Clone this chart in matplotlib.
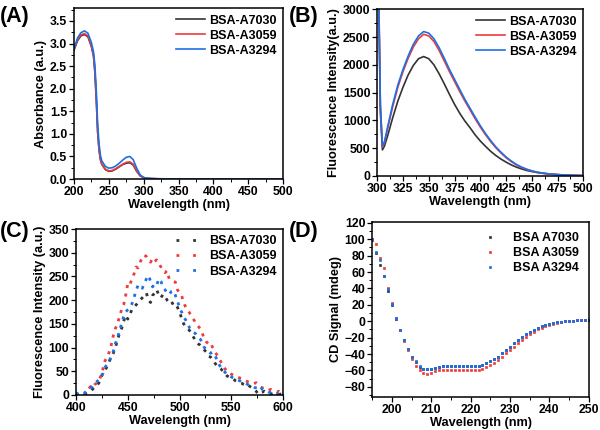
import numpy as np
import matplotlib
matplotlib.use("Agg")
import matplotlib.pyplot as plt
from matplotlib.ticker import MultipleLocator

plt.rcParams['font.family'] = ['Liberation Sans', 'DejaVu Sans']
plt.rcParams['font.weight'] = 'bold'
plt.rcParams['axes.labelweight'] = 'bold'

# ---------------- data ----------------
labels_line = ["BSA-A7030", "BSA-A3059", "BSA-A3294"]
labels_cd = ["BSA A7030", "BSA A3059", "BSA A3294"]
colors = ["#333333", "#ef3b3b", "#1c70e6"]

# (A) absorbance
abs_x = [200, 205, 210, 215, 220, 225, 228, 230, 232, 234, 236, 238, 240, 245, 250, 255,
         260, 265, 270, 275, 280, 285, 290, 295, 300, 305, 310, 320, 350, 400, 450, 500]
abs_a7030 = [2.85, 3.06, 3.17, 3.20, 3.15, 2.93, 2.72, 2.35, 1.75, 1.02, 0.63, 0.42, 0.32, 0.21, 0.17, 0.18,
             0.22, 0.27, 0.32, 0.35, 0.36, 0.31, 0.17, 0.07, 0.03, 0.015, 0.01, 0.005, 0.0, 0.0, 0.0, 0.0]
abs_a3059 = [2.87, 3.08, 3.19, 3.22, 3.17, 2.95, 2.75, 2.40, 1.80, 1.05, 0.65, 0.44, 0.33, 0.22, 0.18, 0.19,
             0.23, 0.28, 0.33, 0.37, 0.38, 0.33, 0.18, 0.07, 0.03, 0.015, 0.01, 0.005, 0.0, 0.0, 0.0, 0.0]
abs_a3294 = [2.88, 3.12, 3.24, 3.28, 3.23, 3.02, 2.82, 2.52, 1.97, 1.20, 0.78, 0.52, 0.40, 0.28, 0.24, 0.25,
             0.29, 0.35, 0.42, 0.48, 0.50, 0.43, 0.24, 0.09, 0.035, 0.015, 0.01, 0.005, 0.0, 0.0, 0.0, 0.0]

# (B) intrinsic fluorescence
fl_x = [300, 301, 303, 305, 307, 310, 315, 320, 325, 330, 335, 340, 345, 350, 355, 360, 365, 370,
        375, 380, 385, 390, 395, 400, 405, 410, 415, 420, 425, 430, 435, 440, 445, 450, 455, 460,
        465, 470, 475, 480, 485, 490, 495, 500]
fl_a7030 = [6000, 3600, 1150, 470, 540, 720, 1050, 1350, 1600, 1820, 1990, 2110, 2150, 2110, 2000, 1840, 1660, 1470,
            1290, 1130, 990, 870, 740, 630, 535, 445, 370, 305, 250, 200, 160, 128, 100, 80, 63, 50,
            39, 31, 24, 19, 15, 11, 9, 7]
fl_a3059 = [6000, 3800, 1250, 520, 600, 850, 1250, 1600, 1880, 2120, 2320, 2470, 2550, 2520, 2420, 2260, 2070, 1880,
            1700, 1520, 1350, 1190, 1030, 880, 745, 620, 510, 415, 330, 260, 200, 155, 118, 90, 68, 52,
            40, 32, 25, 19, 15, 12, 9, 7]
fl_a3294 = [6000, 3800, 1280, 540, 620, 880, 1290, 1640, 1920, 2160, 2370, 2520, 2600, 2570, 2470, 2310, 2120, 1920,
            1740, 1560, 1380, 1220, 1060, 905, 765, 640, 525, 430, 342, 270, 208, 160, 122, 93, 70, 54,
            42, 33, 26, 20, 16, 12, 9, 7]

# (C) extrinsic fluorescence (2 nm steps, 400-600 nm)
ex_x = list(range(400, 601, 2))
ex_a7030 = [2, 0, 1, 0, 2, 3, 5, 8, 12, 18, 20, 25, 35, 48, 52, 60, 70, 80, 88, 100,
            115, 130, 140, 155, 168, 160, 170, 180, 185, 190, 195, 200, 205, 210, 215, 200, 195, 210, 215, 222,
            210, 205, 212, 208, 200, 195, 198, 190, 192, 185, 175, 162, 150, 145, 140, 135, 128, 120, 112, 108,
            105, 100, 95, 90, 82, 80, 75, 68, 62, 58, 55, 50, 45, 40, 38, 36, 34, 30, 28, 26,
            25, 22, 20, 22, 18, 15, 12, 8, 2, 5, 6, 8, 5, 4, 3, 2, 3, 2, 1, 2, 1]
ex_a3059 = [3, 0, 2, 4, 1, 5, 12, 18, 15, 22, 25, 30, 40, 55, 72, 80, 90, 105, 125, 140,
            150, 165, 180, 190, 210, 235, 232, 245, 255, 270, 268, 280, 290, 295, 292, 285, 280, 288, 282, 285,
            278, 270, 262, 258, 262, 245, 242, 240, 238, 222, 215, 210, 195, 185, 180, 172, 165, 158, 150, 145,
            140, 130, 118, 112, 108, 110, 100, 92, 85, 78, 70, 62, 55, 50, 46, 44, 42, 40, 38, 36,
            35, 32, 30, 28, 26, 25, 24, 26, 22, 18, 15, 14, 12, 10, 12, 10, 8, 6, 8, 5, 4]
ex_a3294 = [5, 2, 0, 3, 4, 8, 10, 14, 18, 25, 28, 32, 38, 45, 58, 65, 72, 80, 92, 108,
            120, 135, 150, 165, 175, 180, 185, 192, 205, 220, 232, 230, 225, 235, 245, 252, 240, 228, 235, 232,
            245, 240, 228, 222, 215, 212, 218, 220, 210, 198, 185, 175, 165, 158, 150, 140, 135, 132, 128, 122,
            118, 110, 100, 95, 92, 88, 90, 85, 75, 65, 58, 52, 48, 42, 40, 38, 36, 34, 32, 30,
            28, 27, 25, 22, 20, 18, 16, 15, 14, 18, 12, 10, 8, 6, 5, 4, 5, 3, 2, 4, 3]

# (D) circular dichroism (1 nm steps, 195-250 nm)
cd_x = list(range(195, 251))
cd_a7030 = [99, 83, 68, 55, 37, 20, 3, -11, -23, -34, -43, -50, -56, -58, -58, -58, -57, -56, -55, -54,
            -54, -54, -54, -54, -54, -54, -54, -54, -53, -51, -48, -46, -43, -39, -35, -31, -27, -23, -19, -16,
            -13, -11, -8, -6, -5, -3.5, -2.5, -1.5, -0.5, 0, 0.5, 0.8, 1, 1, 1.2, 1.2]
cd_a3059 = [100, 94, 77, 65, 41, 22, 4, -11, -24, -35, -46, -54, -60, -63, -64, -63, -61, -60, -60, -59,
            -59, -59, -60, -60, -60, -60, -60, -59, -58, -56, -53, -51, -47, -43, -39, -35, -31, -27, -23, -19,
            -16, -13, -10, -8, -6, -4, -3, -2, -1, 0, 0, 0.5, 1, 1, 1, 1.2]
cd_a3294 = [100, 85, 75, 55, 39, 21, 4, -11, -23, -34, -43, -49, -55, -58, -58, -58, -57, -56, -55, -54,
            -54, -54, -54, -54, -54, -54, -55, -55, -53, -51, -48, -46, -43, -39, -35, -31, -27, -23, -19, -16,
            -13, -11, -8, -6, -5, -3.5, -2.5, -1.5, -0.5, 0, 0.5, 0.8, 1, 1, 1.2, 1.2]

# ---------------- figure ----------------
fig = plt.figure(figsize=(6.0, 4.3), dpi=100)

TICK_FS = 8.8
LAB_FS = 9.2
LEG_FS = 9.0
PANEL_FS = 15.5


def style(ax, xmaj, xmin, ymaj, ymin):
    ax.xaxis.set_major_locator(MultipleLocator(xmaj))
    ax.xaxis.set_minor_locator(MultipleLocator(xmin))
    ax.yaxis.set_major_locator(MultipleLocator(ymaj))
    ax.yaxis.set_minor_locator(MultipleLocator(ymin))
    ax.tick_params(which='major', direction='out', length=3.5, width=0.9, labelsize=TICK_FS, pad=1.5)
    ax.tick_params(which='minor', direction='out', length=2, width=0.7)
    for lab in ax.get_xticklabels() + ax.get_yticklabels():
        lab.set_fontweight('bold')
    for s in ax.spines.values():
        s.set_linewidth(1.1)


def legend(ax, **kw):
    leg = ax.legend(loc='upper right', frameon=False, fontsize=LEG_FS, handlelength=2.3,
                    handletextpad=0.35, labelspacing=0.25, borderaxespad=0.1, **kw)
    for t in leg.get_texts():
        t.set_fontweight('bold')
    return leg


# (A)
axA = fig.add_axes([0.1233, 0.5837, 0.3484, 0.397])
for y, c, l in zip([abs_a7030, abs_a3059, abs_a3294], colors, labels_line):
    axA.plot(abs_x, y, color=c, lw=1.2, label=l)
axA.set_xlim(200, 500)
axA.set_ylim(0, 3.78)
style(axA, 50, 25, 0.5, 0.25)
axA.set_xlabel("Wavelength (nm)", fontsize=LAB_FS, labelpad=1)
axA.set_ylabel("Absorbance (a.u.)", fontsize=LAB_FS, labelpad=2)
legend(axA)

# (B)
axB = fig.add_axes([0.6288, 0.5907, 0.3434, 0.3877])
for y, c, l in zip([fl_a7030, fl_a3059, fl_a3294], colors, labels_line):
    axB.plot(fl_x, y, color=c, lw=1.2, label=l)
axB.set_xlim(300, 500)
axB.set_ylim(0, 3000)
style(axB, 25, 12.5, 500, 250)
axB.set_xlabel("Wavelength (nm)", fontsize=LAB_FS, labelpad=1)
axB.set_ylabel("Fluorescence Intensity(a.u.)", fontsize=LAB_FS, labelpad=2)
legend(axB)

# (C)
axC = fig.add_axes([0.1267, 0.0814, 0.345, 0.386])
for y, c, l in zip([ex_a7030, ex_a3059, ex_a3294], colors, labels_line):
    axC.plot(ex_x, y, color=c, lw=2.0, linestyle=(0, (1.1, 2.0)), label=l)
axC.set_xlim(400, 600)
axC.set_ylim(0, 350)
style(axC, 50, 25, 50, 25)
axC.set_xlabel("Wavelength (nm)", fontsize=LAB_FS, labelpad=1)
axC.set_ylabel("Fluorescence Intensity (a.u.)", fontsize=LAB_FS, labelpad=2)
legC = legend(axC)
for h in legC.get_lines():
    h.set_linestyle((0, (1.0, 5.0)))
    h.set_linewidth(2.0)

# (D)
axD = fig.add_axes([0.6205, 0.0774, 0.3607, 0.4063])
for y, c, l in zip([cd_a7030, cd_a3059, cd_a3294], colors, labels_cd):
    axD.plot(cd_x, y, linestyle='none', marker='s', ms=1.8, mew=0.5, color=c, mec=c, label=l)
axD.set_xlim(195, 250)
axD.set_ylim(-92, 121)
style(axD, 10, 5, 20, 10)
axD.set_xlabel("Wavelength (nm)", fontsize=LAB_FS, labelpad=1)
axD.set_ylabel("CD Signal (mdeg)", fontsize=LAB_FS, labelpad=2)
legD = axD.legend(loc='upper right', frameon=False, fontsize=LEG_FS, handlelength=1.0,
                  handletextpad=1.3, labelspacing=0.25, borderaxespad=0.4, markerscale=1.0)
for t in legD.get_texts():
    t.set_fontweight('bold')

# panel labels
for txt, x, y in [("(A)", 0.0, 0.985), ("(B)", 0.482, 0.985), ("(C)", 0.0, 0.485), ("(D)", 0.482, 0.485)]:
    fig.text(x, y, txt, fontsize=PANEL_FS, fontweight='bold', ha='left', va='top')

fig.savefig("out.png", dpi=100)
